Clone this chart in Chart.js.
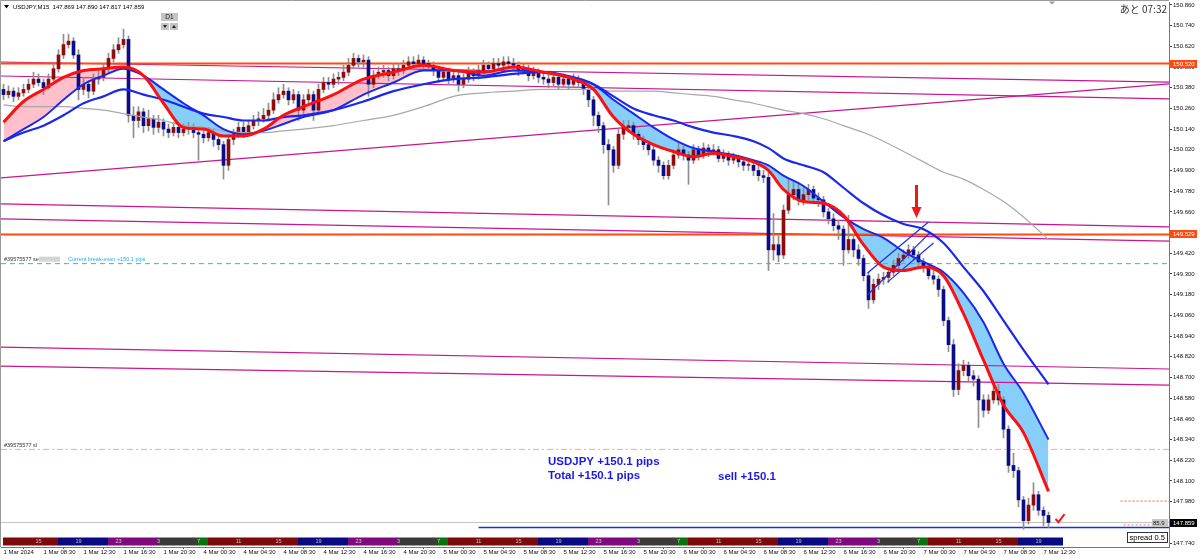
<!DOCTYPE html>
<html>
<head>
<meta charset="utf-8">
<script src="https://cdn.jsdelivr.net/npm/chart.js@4.4.0/dist/chart.umd.min.js"></script>
<style>
  html, body { margin: 0; padding: 0; background: #fff; }
  #wrap { width: 1200px; height: 559px; }
</style>
</head>
<body>
<div id="wrap"><canvas id="chart" width="1200" height="559"></canvas></div>
<script>
// USDJPY M15 screenshot, redrawn as 30 minute candles (bar index 0 = 1 Mar 04:30)
const opens = [
  150.37,150.34,150.36,150.33,150.35,150.37,150.40,150.43,150.41,150.38,
  150.43,150.49,150.57,150.63,150.65,150.57,150.37,150.40,150.36,150.43,
  150.44,150.49,150.55,150.60,150.63,150.66,150.22,150.19,150.24,150.16,
  150.20,150.15,150.18,150.14,150.12,150.15,150.12,150.14,150.15,150.12,
  150.11,150.09,150.12,150.08,150.05,149.93,150.08,150.11,150.15,150.12,
  150.16,150.19,150.20,150.22,150.25,150.31,150.34,150.36,150.31,150.34,
  150.25,150.31,150.34,150.25,150.37,150.41,150.40,150.43,150.44,150.47,
  150.51,150.55,150.53,150.54,150.40,150.45,150.47,150.48,150.45,150.49,
  150.48,150.51,150.53,150.52,150.54,150.52,150.51,150.48,150.44,150.47,
  150.43,150.45,150.40,150.43,150.47,150.45,150.48,150.51,150.49,150.52,
  150.51,150.53,150.52,150.51,150.48,150.49,150.45,150.47,150.44,150.43,
  150.41,150.44,150.40,150.43,150.40,150.43,150.41,150.37,150.31,150.22,
  150.16,150.05,150.02,149.93,150.11,150.15,150.16,150.11,150.08,150.05,
  150.02,149.96,149.93,149.87,149.93,149.99,150.02,149.99,149.96,150.02,
  149.99,150.03,150.01,150.02,149.97,149.99,149.96,149.97,149.95,149.93,
  149.93,149.90,149.87,149.86,149.44,149.47,149.41,149.67,149.76,149.79,
  149.73,149.76,149.79,149.74,149.73,149.66,149.62,149.58,149.56,149.44,
  149.50,149.44,149.39,149.29,149.15,149.24,149.27,149.28,149.31,149.35,
  149.39,149.41,149.44,149.41,149.37,149.34,149.29,149.27,149.21,149.03,
  148.89,148.63,148.74,148.77,148.71,148.69,148.57,148.51,148.57,148.62,
  148.57,148.40,148.19,148.16,147.99,147.87,147.96,148.02,147.93,147.90
];
const highs = [
  150.40,150.39,150.38,150.38,150.40,150.43,150.47,150.46,150.43,150.46,
  150.52,150.60,150.69,150.69,150.67,150.60,150.44,150.42,150.46,150.48,
  150.52,150.58,150.63,150.67,150.72,150.68,150.27,150.27,150.26,150.25,
  150.22,150.22,150.20,150.17,150.18,150.17,150.17,150.18,150.17,150.14,
  150.13,150.15,150.14,150.10,150.07,150.10,150.14,150.18,150.18,150.19,
  150.22,150.24,150.26,150.29,150.35,150.38,150.40,150.38,150.37,150.36,
  150.34,150.37,150.36,150.40,150.44,150.44,150.46,150.47,150.51,150.55,
  150.58,150.57,150.57,150.56,150.48,150.50,150.51,150.50,150.52,150.52,
  150.54,150.56,150.56,150.57,150.56,150.54,150.53,150.50,150.50,150.49,
  150.48,150.47,150.46,150.50,150.49,150.51,150.54,150.53,150.55,150.55,
  150.56,150.56,150.55,150.53,150.52,150.51,150.50,150.49,150.47,150.46,
  150.47,150.46,150.46,150.45,150.46,150.45,150.43,150.39,150.33,150.24,
  150.18,150.08,150.04,150.14,150.19,150.19,150.18,150.13,150.10,150.07,
  150.04,149.98,149.95,149.96,150.02,150.06,150.04,150.01,150.05,150.04,
  150.06,150.05,150.05,150.04,150.02,150.01,150.00,149.99,149.97,149.96,
  149.95,149.93,149.90,149.89,149.65,149.52,149.70,149.85,149.84,149.82,
  149.80,149.82,149.81,149.77,149.75,149.68,149.65,149.61,149.58,149.64,
  149.53,149.47,149.41,149.31,149.27,149.30,149.31,149.34,149.38,149.42,
  149.44,149.47,149.46,149.43,149.39,149.36,149.32,149.29,149.23,149.05,
  148.92,148.78,148.80,148.79,148.74,148.71,148.60,148.60,148.66,148.66,
  148.59,148.42,148.26,148.18,148.01,148.00,148.09,148.04,147.95,147.92
];
const lows = [
  150.31,150.32,150.30,150.31,150.33,150.35,150.38,150.39,150.34,150.37,
  150.42,150.47,150.55,150.61,150.55,150.31,150.34,150.32,150.34,150.40,
  150.42,150.47,150.53,150.58,150.61,150.18,150.09,150.15,150.12,150.13,
  150.11,150.12,150.10,150.09,150.10,150.09,150.10,150.11,150.09,149.96,
  150.06,150.07,150.04,150.02,149.85,149.90,150.05,150.09,150.09,150.10,
  150.14,150.16,150.18,150.20,150.23,150.29,150.32,150.28,150.29,150.19,
  150.23,150.29,150.19,150.23,150.35,150.37,150.38,150.40,150.42,150.45,
  150.49,150.50,150.50,150.33,150.38,150.43,150.44,150.42,150.43,150.45,
  150.46,150.49,150.49,150.50,150.49,150.48,150.45,150.41,150.42,150.40,
  150.41,150.36,150.38,150.41,150.42,150.43,150.46,150.47,150.47,150.48,
  150.49,150.49,150.48,150.45,150.46,150.42,150.43,150.41,150.40,150.38,
  150.39,150.37,150.38,150.37,150.38,150.38,150.34,150.27,150.16,150.12,
  150.00,149.70,149.89,149.91,150.08,150.12,150.08,150.05,150.02,149.99,
  149.93,149.89,149.85,149.85,149.91,149.97,149.96,149.82,149.94,149.96,
  149.97,149.98,149.99,149.95,149.95,149.93,149.94,149.92,149.90,149.90,
  149.87,149.84,149.83,149.32,149.38,149.37,149.39,149.65,149.73,149.70,
  149.70,149.73,149.71,149.69,149.63,149.59,149.55,149.50,149.35,149.42,
  149.40,149.35,149.26,149.10,149.13,149.21,149.24,149.25,149.29,149.33,
  149.37,149.39,149.38,149.35,149.31,149.27,149.24,149.17,149.00,148.85,
  148.59,148.60,148.71,148.68,148.65,148.41,148.47,148.49,148.55,148.54,
  148.35,148.15,148.12,147.95,147.82,147.85,147.93,147.90,147.84,147.83
];
const closes = [
  150.34,150.36,150.33,150.35,150.37,150.40,150.43,150.41,150.38,150.43,
  150.49,150.57,150.63,150.65,150.57,150.37,150.40,150.36,150.43,150.44,
  150.49,150.55,150.60,150.63,150.66,150.22,150.19,150.24,150.16,150.20,
  150.15,150.18,150.14,150.12,150.15,150.12,150.14,150.15,150.12,150.11,
  150.09,150.12,150.08,150.05,149.93,150.08,150.11,150.15,150.12,150.16,
  150.19,150.20,150.22,150.25,150.31,150.34,150.36,150.31,150.34,150.25,
  150.31,150.34,150.25,150.37,150.41,150.40,150.43,150.44,150.47,150.51,
  150.55,150.53,150.54,150.40,150.45,150.47,150.48,150.45,150.49,150.48,
  150.51,150.53,150.52,150.54,150.52,150.51,150.48,150.44,150.47,150.43,
  150.45,150.40,150.43,150.47,150.45,150.48,150.51,150.49,150.52,150.51,
  150.53,150.52,150.51,150.48,150.49,150.45,150.47,150.44,150.43,150.41,
  150.44,150.40,150.43,150.40,150.43,150.41,150.37,150.31,150.22,150.16,
  150.05,150.02,149.93,150.11,150.15,150.16,150.11,150.08,150.05,150.02,
  149.96,149.93,149.87,149.93,149.99,150.02,149.99,149.96,150.02,149.99,
  150.03,150.01,150.02,149.97,149.99,149.96,149.97,149.95,149.93,149.93,
  149.90,149.87,149.86,149.44,149.47,149.41,149.67,149.76,149.79,149.73,
  149.76,149.79,149.74,149.73,149.66,149.62,149.58,149.56,149.44,149.50,
  149.44,149.39,149.29,149.15,149.24,149.27,149.28,149.31,149.35,149.39,
  149.41,149.44,149.41,149.37,149.34,149.29,149.27,149.21,149.03,148.89,
  148.63,148.74,148.77,148.71,148.69,148.57,148.51,148.57,148.62,148.57,
  148.40,148.19,148.16,147.99,147.87,147.96,148.02,147.93,147.90,147.859
];

// moving averages at these bars
const maBars = [0,4,8,12,16,20,24,28,32,36,40,44,48,52,56,60,66,72,78,84,90,96,102,108,114,
  118,122,126,130,134,138,142,146,150,153,156,160,164,168,172,176,180,184,188,192,196,200,204,209];
const maRed = [150.18,150.30,150.37,150.44,150.48,150.49,150.50,150.45,150.29,150.15,150.14,150.10,
  150.10,150.14,150.22,150.27,150.34,150.43,150.47,150.51,150.48,150.47,150.50,150.47,150.43,
  150.37,150.21,150.11,150.05,150.01,149.98,150.00,149.98,149.95,149.90,149.79,149.72,149.71,
  149.64,149.47,149.34,149.32,149.34,149.29,149.07,148.80,148.54,148.38,148.04];
const maBlueFast = [150.07,150.14,150.21,150.31,150.40,150.45,150.49,150.45,150.37,150.29,150.22,150.14,
  150.11,150.13,150.17,150.21,150.25,150.34,150.41,150.48,150.48,150.45,150.48,150.47,150.44,
  150.40,150.31,150.23,150.15,150.08,150.03,150.01,149.99,149.96,149.93,149.87,149.81,149.72,
  149.63,149.56,149.51,149.43,149.37,149.31,149.19,149.02,148.78,148.61,148.34];
const maBlueSlow = [150.07,150.12,150.16,150.22,150.29,150.33,150.37,150.34,150.31,150.27,150.23,150.21,
  150.19,150.19,150.21,150.22,150.25,150.30,150.36,150.40,150.43,150.44,150.46,150.47,150.44,
  150.40,150.33,150.26,150.22,150.19,150.15,150.12,150.10,150.07,150.03,149.97,149.93,149.89,
  149.80,149.71,149.64,149.59,149.56,149.48,149.34,149.20,149.03,148.86,148.66];
const maGray = [150.28,150.27,150.27,150.27,150.26,150.25,150.23,150.21,150.19,150.16,150.15,150.13,
  150.12,150.12,150.13,150.14,150.16,150.19,150.22,150.27,150.33,150.35,150.36,150.37,150.37,
  150.37,150.36,150.36,150.36,150.35,150.34,150.33,150.31,150.29,150.27,150.25,150.23,150.20,
  150.16,150.12,150.07,150.01,149.95,149.89,149.85,149.79,149.72,149.63,149.50];

// axis labels
const yTicks = [150.860,150.740,150.620,150.500,150.380,150.260,150.140,150.020,149.900,149.780,
  149.660,149.540,149.420,149.300,149.180,149.060,148.940,148.820,148.700,148.580,148.460,
  148.340,148.220,148.100,147.980,147.860,147.740];
const timeTickBars = [0,8,16,24,32,40,48,56,64,72,80,88,96,104,112,120,128,136,144,152,160,168,176,184,192,200,208];
const timeLabels = ['1 Mar 2024','1 Mar 08:30','1 Mar 12:30','1 Mar 16:30','1 Mar 20:30',
  '4 Mar 00:30','4 Mar 04:30','4 Mar 08:30','4 Mar 12:30','4 Mar 16:30','4 Mar 20:30',
  '5 Mar 00:30','5 Mar 04:30','5 Mar 08:30','5 Mar 12:30','5 Mar 16:30','5 Mar 20:30',
  '6 Mar 00:30','6 Mar 04:30','6 Mar 08:30','6 Mar 12:30','6 Mar 16:30','6 Mar 20:30',
  '7 Mar 00:30','7 Mar 04:30','7 Mar 08:30','7 Mar 12:30'];

// session strip at the bottom
const sessionStart = [0,11,21,31,39,41,59,69,79,87,89,107,117,127,135,137,155,165,175,183,185,203];
const sessionEnd   = [11,21,31,39,41,59,69,79,87,89,107,117,127,135,137,155,165,175,183,185,203,212];
const sessionKind  = ['eu','ny','late','off','asia','eu','ny','late','off','asia','eu','ny','late','off',
  'asia','eu','ny','late','off','asia','eu','ny'];
const sessionHourBars = [7,15,23,31,39,47,55,63,71,79,87,95,103,111,119,127,135,143,151,159,167,175,183,191,199,207];
const sessionHours = ['15','19','23','3','7','11','15','19','23','3','7','11','15','19','23','3','7','11',
  '15','19','23','3','7','11','15','19'];

// drawn objects
const magentaLeft  = [150.529,150.448,149.857,149.706,149.619,148.876,148.766];
const magentaRight = [150.413,150.315,150.402,149.573,149.491,148.749,148.656];
const levelPrices = [150.520, 149.529];
const channelStartBar = [172.8,172.8,176.8];
const channelStartPrice = [149.306,149.178,149.253];
const channelEndBar = [185,185.4,186];
const channelEndPrice = [149.601,149.543,149.480];
const entryPrice = 149.360;
const slPrice = 148.283;
const bidPrice = 147.859;
const closedPrice = 147.830, closedFromBar = 95;
const tpPrice = 147.983, tpFromBar = 223.4;
const askMarkPrice = 147.845, askMarkFromBar = 224, askMarkToBar = 230.4;
const arrowBar = 182.6, arrowTop = 149.816, arrowTip = 149.625;
const checkBars = [210.4, 211, 212.2];
const checkPrices = [147.879, 147.861, 147.908];

const X_MIN = -0.5, X_MAX = 233.1;
const Y_MIN = 147.717, Y_MAX = 150.877;

const SESSION_COLORS = { eu: '#7d0a0a', ny: '#0a0a80', late: '#7e0a7e', off: '#3a3a3a', asia: '#0a720a' };
const FONT = '"Liberation Sans", Arial, sans-serif';

function seg(x0, p0, x1, p1, color, width, dash, order) {
  return {
    type: 'line',
    data: [{ x: x0, y: p0 }, { x: x1, y: p1 }],
    borderColor: color,
    borderWidth: width,
    borderDash: dash || [],
    pointRadius: 0,
    fill: false,
    order: order
  };
}

function maLine(values, color, width, order) {
  return {
    type: 'line',
    data: maBars.map((b, i) => ({ x: b, y: values[i] })),
    borderColor: color,
    borderWidth: width,
    pointRadius: 0,
    cubicInterpolationMode: 'monotone',
    fill: false,
    order: order
  };
}

const datasets = [];
magentaLeft.forEach((p, i) => datasets.push(seg(X_MIN, p, X_MAX, magentaRight[i], '#c8168e', 1.2, null, 20)));
levelPrices.forEach(p => datasets.push(seg(X_MIN, p, X_MAX, p, '#ff4a10', 2, null, 19)));
datasets.push(seg(X_MIN, entryPrice, X_MAX, entryPrice, '#66bb66', 1, [5, 4], 18));
datasets.push(seg(X_MIN, entryPrice, X_MAX, entryPrice, 'rgba(80,200,255,0.6)', 1, [3, 6], 18));
datasets.push(seg(X_MIN, slPrice, X_MAX, slPrice, '#ffa585', 1, [6, 3, 2, 3], 18));
datasets.push(seg(X_MIN, bidPrice, X_MAX, bidPrice, '#c4c4c4', 1, null, 18));
datasets.push(seg(closedFromBar, closedPrice, X_MAX, closedPrice, '#1f2fe0', 1.6, null, 18));
datasets.push(seg(tpFromBar, tpPrice, X_MAX, tpPrice, '#ff5a30', 1, [2, 2], 18));
datasets.push(seg(askMarkFromBar, askMarkPrice, askMarkToBar, askMarkPrice, '#ff7a50', 1, [2, 2], 18));
channelStartBar.forEach((b, i) => datasets.push(seg(b, channelStartPrice[i], channelEndBar[i], channelEndPrice[i], '#1a2ee6', 1.2, null, 3)));

// candles: thin wick bar + body bar on the same bar index
datasets.push({
  type: 'bar',
  data: closes.map((c, i) => ({ x: i, y: [lows[i], highs[i]] })),
  backgroundColor: '#8e8e8e',
  barThickness: 1,
  grouped: false,
  order: 7
});
datasets.push({
  type: 'bar',
  data: closes.map((c, i) => ({ x: i, y: [opens[i], c] })),
  backgroundColor: closes.map((c, i) => c >= opens[i] ? '#8b0d0d' : '#0c0c86'),
  barThickness: 3,
  minBarLength: 1,
  grouped: false,
  order: 6
});

datasets.push(maLine(maGray, '#a8a8a8', 1.2, 5));
datasets.push(maLine(maBlueSlow, '#1a28ee', 2.2, 4));
const fastIdx = datasets.length;
datasets.push(maLine(maBlueFast, '#1a28ee', 2, 2));
const red = maLine(maRed, '#ff1010', 3, 1);
red.fill = { target: fastIdx, above: '#ffc0cb', below: '#87cefa' };
datasets.push(red);

const overlay = {
  id: 'overlay',
  afterDatasetsDraw(chart) {
    const { ctx, chartArea: a, scales: { x, y } } = chart;
    ctx.save();

    // session strip
    const top = a.bottom - 9.5;
    sessionStart.forEach((s, i) => {
      const x0 = x.getPixelForValue(s) - 0.5;
      const x1 = x.getPixelForValue(sessionEnd[i]) - 0.5;
      ctx.fillStyle = SESSION_COLORS[sessionKind[i]];
      ctx.fillRect(x0, top, x1 - x0, 8);
    });
    ctx.font = '5.5px ' + FONT;
    ctx.fillStyle = 'rgba(255,255,255,0.7)';
    ctx.textAlign = 'center';
    ctx.textBaseline = 'middle';
    sessionHourBars.forEach((b, i) => ctx.fillText(sessionHours[i], x.getPixelForValue(b), top + 4));

    // red arrow
    const ax = x.getPixelForValue(arrowBar);
    const ay0 = y.getPixelForValue(arrowTop), ay1 = y.getPixelForValue(arrowTip);
    ctx.fillStyle = '#f01818';
    ctx.fillRect(ax - 1.5, ay0, 3, ay1 - ay0 - 10);
    ctx.beginPath();
    ctx.moveTo(ax - 5, ay1 - 11);
    ctx.lineTo(ax + 5, ay1 - 11);
    ctx.lineTo(ax, ay1);
    ctx.closePath();
    ctx.fill();

    // check mark at the close
    ctx.strokeStyle = '#f01818';
    ctx.lineWidth = 2;
    ctx.beginPath();
    checkBars.forEach((b, i) => {
      const px = x.getPixelForValue(b), py = y.getPixelForValue(checkPrices[i]);
      if (i === 0) ctx.moveTo(px, py); else ctx.lineTo(px, py);
    });
    ctx.stroke();

    // order labels on the left
    const ye = y.getPixelForValue(entryPrice);
    const ys = y.getPixelForValue(slPrice);
    ctx.textAlign = 'left';
    ctx.font = '5.5px ' + FONT;
    ctx.fillStyle = '#333';
    ctx.fillText('#39575577 sell', 4, ye - 4);
    ctx.fillText('#39575577 sl', 4, ys - 4);
    ctx.fillStyle = '#d4d4d4';
    ctx.fillRect(39, ye - 7, 21, 5);
    ctx.fillStyle = '#2fa8f0';
    ctx.fillText('Current break-even +150.1 pips', 68, ye - 4);

    // result texts
    ctx.font = 'bold 11.5px ' + FONT;
    ctx.fillStyle = '#1a1ae6';
    ctx.textBaseline = 'alphabetic';
    ctx.fillText('USDJPY +150.1 pips', 548, 465);
    ctx.fillText('Total +150.1 pips', 548, 479);
    ctx.fillText('sell +150.1', 718, 480);
    ctx.restore();
  },
  afterDraw(chart) {
    const { ctx, chartArea: a, scales: { y } } = chart;
    ctx.save();
    // window frame
    ctx.strokeStyle = '#9a9a9a';
    ctx.lineWidth = 1;
    ctx.beginPath();
    ctx.moveTo(0.5, a.bottom);
    ctx.lineTo(0.5, 0.5);
    ctx.lineTo(a.right, 0.5);
    ctx.stroke();

    // header
    ctx.fillStyle = '#000';
    ctx.font = '6px ' + FONT;
    ctx.textBaseline = 'middle';
    ctx.textAlign = 'left';
    ctx.beginPath();
    ctx.moveTo(4, 5); ctx.lineTo(9, 5); ctx.lineTo(6.5, 8.5); ctx.closePath(); ctx.fill();
    ctx.fillText('USDJPY,M15  147.869 147.890 147.817 147.859', 13, 7);

    // D1 button
    ctx.fillStyle = '#c4c4c4';
    ctx.fillRect(161, 13, 17, 8);
    ctx.fillRect(161, 23, 8, 7);
    ctx.fillRect(170, 23, 8, 7);
    ctx.fillStyle = '#222';
    ctx.textAlign = 'center';
    ctx.font = '6.5px ' + FONT;
    ctx.fillText('D1', 169.5, 17.5);
    ctx.beginPath();
    ctx.moveTo(163, 25); ctx.lineTo(167, 25); ctx.lineTo(165, 28); ctx.closePath(); ctx.fill();
    ctx.beginPath();
    ctx.moveTo(172, 28); ctx.lineTo(176, 28); ctx.lineTo(174, 25); ctx.closePath(); ctx.fill();

    // shift marker and bar timer
    ctx.fillStyle = '#999';
    ctx.beginPath();
    ctx.moveTo(1049, 1.5); ctx.lineTo(1055, 1.5); ctx.lineTo(1052, 4.5); ctx.closePath(); ctx.fill();
    ctx.fillStyle = '#333';
    ctx.textAlign = 'right';
    ctx.font = '10px "Noto Sans CJK JP", ' + FONT;
    ctx.fillText('あと 07:32', 1167, 9);

    // price boxes on the axis
    ctx.font = '6px ' + FONT;
    ctx.textAlign = 'left';
    const box = (price, text, bg) => {
      const py = Math.round(y.getPixelForValue(price));
      ctx.fillStyle = bg;
      ctx.fillRect(a.right + 1, py - 4, 27, 8);
      ctx.fillStyle = '#fff';
      ctx.fillText(text, a.right + 4, py);
    };
    box(levelPrices[0], '150.520', '#ff4a10');
    box(levelPrices[1], '149.529', '#ff4a10');
    box(bidPrice, '147.859', '#000');

    // 85.9 tag on the bid line
    const by = Math.round(y.getPixelForValue(bidPrice));
    ctx.fillStyle = '#c6c6c6';
    ctx.fillRect(1152, by - 4, 16, 8);
    ctx.fillStyle = '#222';
    ctx.fillText('85.9', 1153, by);

    // spread box
    ctx.fillStyle = '#fff';
    ctx.fillRect(1127.5, 532.5, 40, 10);
    ctx.strokeStyle = '#333';
    ctx.strokeRect(1127.5, 532.5, 40, 10);
    ctx.fillStyle = '#000';
    ctx.font = '7.5px ' + FONT;
    ctx.fillText('spread 0.5', 1129.5, 538);
    ctx.restore();
  }
};

new Chart(document.getElementById('chart'), {
  type: 'line',
  data: { datasets },
  options: {
    responsive: false,
    animation: false,
    layout: { padding: { left: 1, top: 2, right: 0, bottom: 0 } },
    plugins: {
      legend: { display: false },
      tooltip: { enabled: false },
      filler: { drawTime: 'beforeDatasetsDraw' }
    },
    elements: { point: { radius: 0 } },
    scales: {
      x: {
        type: 'linear',
        min: X_MIN,
        max: X_MAX,
        offset: false,
        afterBuildTicks: s => { s.ticks = timeTickBars.map(v => ({ value: v })); },
        afterFit: s => { s.height = 12; s.paddingLeft = s.paddingRight = 0; },
        grid: { drawOnChartArea: false, tickLength: 2, color: '#444' },
        border: { color: '#777' },
        ticks: {
          autoSkip: false, maxRotation: 0, minRotation: 0, align: 'start', padding: 0,
          color: '#111', font: { family: FONT, size: 6 },
          callback: (v, i) => timeLabels[i]
        }
      },
      y: {
        type: 'linear',
        position: 'right',
        min: Y_MIN,
        max: Y_MAX,
        afterBuildTicks: s => { s.ticks = yTicks.map(v => ({ value: v })); },
        afterFit: s => { s.width = 31; s.paddingTop = s.paddingBottom = 0; },
        grid: { drawOnChartArea: false, tickLength: 3, color: '#444' },
        border: { color: '#777' },
        ticks: {
          padding: 1, color: '#111', font: { family: FONT, size: 6 },
          callback: v => v.toFixed(3)
        }
      }
    }
  },
  plugins: [overlay]
});
</script>
</body>
</html>
